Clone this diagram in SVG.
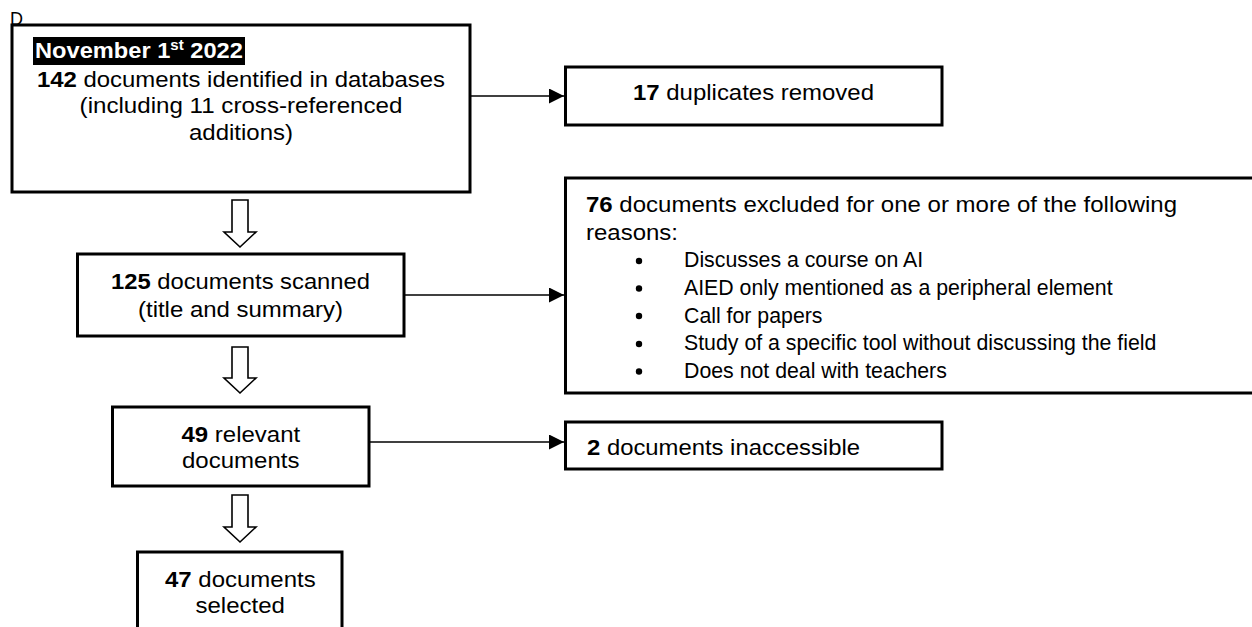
<svg xmlns="http://www.w3.org/2000/svg" width="1252" height="627" viewBox="0 0 1252 627">
<style>
.box{fill:#fff;stroke:#000;stroke-width:3}
.t{font-family:"Liberation Sans",Arial,sans-serif;font-size:22px;fill:#000}
.b{font-weight:bold}
.bl{font-family:"Liberation Sans",Arial,sans-serif;font-size:21.3px;fill:#000}
.conn{stroke:#000;stroke-width:1.3;fill:none}
.block{fill:#fff;stroke:#000;stroke-width:1.6;stroke-linejoin:miter}
</style>
<defs>
<marker id="ah" markerUnits="userSpaceOnUse" markerWidth="16" markerHeight="16" refX="15" refY="7.5" orient="auto">
<path d="M0,0 L15,7.5 L0,15 Z" fill="#000"/>
</marker>
</defs>
<rect width="1252" height="627" fill="#fff"/>
<text x="10" y="25" style="font-family:'Liberation Sans',Arial,sans-serif;font-size:18px">D</text>

<g id="connectors">
<line class="conn" x1="471" y1="96" x2="564" y2="96" marker-end="url(#ah)"/>
<line class="conn" x1="404" y1="295" x2="564" y2="295" marker-end="url(#ah)"/>
<line class="conn" x1="369" y1="442" x2="564" y2="442" marker-end="url(#ah)"/>
<path class="block" d="M232,200 H248 V232 H256 L240,247 L224,232 H232 Z"/>
<path class="block" d="M232,347 H248 V378 H256 L240,393 L224,378 H232 Z"/>
<path class="block" d="M232,495 H248 V527 H256 L240,542 L224,527 H232 Z"/>
</g>

<g id="identified">
<rect class="box" x="12" y="25" width="458" height="167"/>
<rect x="33" y="37" width="212" height="28" fill="#000"/>
<text class="t b" transform="translate(35,58) scale(1.075,1)" fill="#fff" style="fill:#fff">November 1<tspan font-size="14" dy="-8">st</tspan><tspan dy="8"> 2022</tspan></text>
<text class="t" x="37" y="86.5" textLength="408" lengthAdjust="spacingAndGlyphs"><tspan class="b">142</tspan> documents identified in databases</text>
<text class="t" x="79.6" y="113" textLength="322.8" lengthAdjust="spacingAndGlyphs">(including 11 cross-referenced</text>
<text class="t" x="189" y="140" textLength="104" lengthAdjust="spacingAndGlyphs">additions)</text>
</g>

<g id="duplicates">
<rect class="box" x="565.5" y="67" width="376.5" height="58"/>
<text class="t" x="633" y="100" textLength="241" lengthAdjust="spacingAndGlyphs"><tspan class="b">17</tspan> duplicates removed</text>
</g>

<g id="excluded">
<rect class="box" x="565.5" y="178" width="700" height="215"/>
<text class="t" x="586" y="212" textLength="591" lengthAdjust="spacingAndGlyphs"><tspan class="b">76</tspan> documents excluded for one or more of the following</text>
<text class="t" x="586" y="239.5" textLength="92" lengthAdjust="spacingAndGlyphs">reasons:</text>
<circle cx="639" cy="261" r="3.2"/>
<circle cx="639" cy="288.5" r="3.2"/>
<circle cx="639" cy="316" r="3.2"/>
<circle cx="639" cy="344" r="3.2"/>
<circle cx="639" cy="371.5" r="3.2"/>
<text class="bl" x="684" y="267.4">Discusses a course on AI</text>
<text class="bl" x="684" y="295">AIED only mentioned as a peripheral element</text>
<text class="bl" x="684" y="322.7">Call for papers</text>
<text class="bl" x="684" y="350.4">Study of a specific tool without discussing the field</text>
<text class="bl" x="684" y="378">Does not deal with teachers</text>
</g>

<g id="scanned">
<rect class="box" x="77.5" y="254" width="326.5" height="82"/>
<text class="t" x="111" y="289" textLength="259" lengthAdjust="spacingAndGlyphs"><tspan class="b">125</tspan> documents scanned</text>
<text class="t" x="138" y="316.5" textLength="205" lengthAdjust="spacingAndGlyphs">(title and summary)</text>
</g>

<g id="relevant">
<rect class="box" x="112.5" y="407" width="256.5" height="79"/>
<text class="t" x="181.5" y="442" textLength="118.7" lengthAdjust="spacingAndGlyphs"><tspan class="b">49</tspan> relevant</text>
<text class="t" x="182" y="468" textLength="117.4" lengthAdjust="spacingAndGlyphs">documents</text>
</g>

<g id="inaccessible">
<rect class="box" x="565.5" y="422" width="376.5" height="47"/>
<text class="t" x="587" y="455" textLength="273" lengthAdjust="spacingAndGlyphs"><tspan class="b">2</tspan> documents inaccessible</text>
</g>

<g id="selected">
<rect class="box" x="137.5" y="552" width="204.5" height="100"/>
<text class="t" x="165" y="587" textLength="150.7" lengthAdjust="spacingAndGlyphs"><tspan class="b">47</tspan> documents</text>
<text class="t" x="195.5" y="613" textLength="89.4" lengthAdjust="spacingAndGlyphs">selected</text>
</g>
</svg>
